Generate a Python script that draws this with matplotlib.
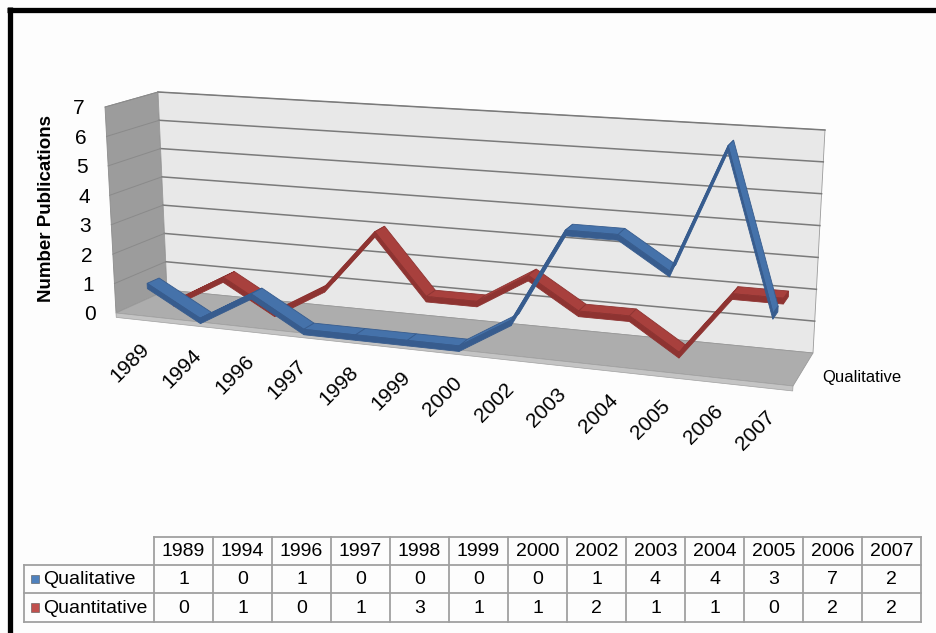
import numpy as np
import matplotlib
matplotlib.use('Agg')
import matplotlib.pyplot as plt
from matplotlib.patches import Polygon

plt.rcParams['font.family'] = ['Liberation Sans', 'DejaVu Sans']

# publication counts per year
years = ['1989', '1994', '1996', '1997', '1998', '1999', '2000',
         '2002', '2003', '2004', '2005', '2006', '2007']
qualitative = [1, 0, 1, 0, 0, 0, 0, 1, 4, 4, 3, 7, 2]
quantitative = [0, 1, 0, 1, 3, 1, 1, 2, 1, 1, 0, 2, 2]
series_names = ['Qualitative', 'Quantitative']
y_ticks = [0, 1, 2, 3, 4, 5, 6, 7]

V_MAX = 7
# screen positions (pixels) of the 3d box corners: (u, v, w) -> (x, y)
# u = along categories, v = value (0..1 of V_MAX), w = depth (0 back, 1 front)
CORNERS = {
    (0, 0, 0): (167, 290), (0, 1, 0): (158, 92),
    (1, 0, 0): (813, 353), (1, 1, 0): (825, 130),
    (0, 0, 1): (116, 313), (0, 1, 1): (105, 107),
    (1, 0, 1): (793, 386), (1, 1, 1): (806, 154),
}
D = 0.12   # half depth of a ribbon
T = 0.18   # ribbon thickness in value units


def project(u, v, w):
    s = v / V_MAX
    x = y = 0.0
    for (a, b, c), (px, py) in CORNERS.items():
        wt = (u if a else 1 - u) * (s if b else 1 - s) * (w if c else 1 - w)
        x += wt * px
        y += wt * py
    return x, y


fig = plt.figure(figsize=(9.36, 6.33), dpi=100)
fig.patch.set_facecolor('#fdfdfd')
ax = fig.add_axes([0, 0, 1, 1])
ax.set_xlim(0, 936)
ax.set_ylim(633, 0)
ax.axis('off')

# walls and floor
side = [project(0, 0, 0), project(0, V_MAX, 0), project(0, V_MAX, 1), project(0, 0, 1)]
back = [project(0, 0, 0), project(0, V_MAX, 0), project(1, V_MAX, 0), project(1, 0, 0)]
floor = [project(0, 0, 0), project(1, 0, 0), project(1, 0, 1), project(0, 0, 1)]
lip = [project(0, 0, 1), project(1, 0, 1), project(1, -0.15, 1), project(0, -0.15, 1)]
ax.add_patch(Polygon(side, closed=True, fc='#9c9c9c', ec='#8c8c8c', lw=0.6, zorder=1))
ax.add_patch(Polygon(back, closed=True, fc='#e8e8e8', ec='#9a9a9a', lw=0.6, zorder=1))
ax.add_patch(Polygon(floor, closed=True, fc='#adadad', ec='#9a9a9a', lw=0.6, zorder=1))
ax.add_patch(Polygon(lip, closed=True, fc='#c4c4c4', ec='#a0a0a0', lw=0.5, zorder=1))

# gridlines on back and side walls
for v in y_ticks[1:]:
    p0, p1 = project(0, v, 0), project(1, v, 0)
    ax.plot([p0[0], p1[0]], [p0[1], p1[1]], color='#7a7a7a', lw=1.1, zorder=2)
    q1 = project(0, v, 1)
    ax.plot([p0[0], q1[0]], [p0[1], q1[1]], color='#8a8a8a', lw=0.7, zorder=2)


def draw_ribbon(values, wc, top_col, side_col, z):
    n = len(values)
    us = (np.arange(n) + 0.5) / n
    for i in range(n - 1):
        u0, u1 = us[i], us[i + 1]
        v0, v1 = values[i], values[i + 1]
        top = [project(u0, v0, wc - D), project(u1, v1, wc - D),
               project(u1, v1, wc + D), project(u0, v0, wc + D)]
        front = [project(u0, v0, wc + D), project(u1, v1, wc + D),
                 project(u1, v1 - T, wc + D), project(u0, v0 - T, wc + D)]
        ax.add_patch(Polygon(top, closed=True, fc=top_col, ec=side_col, lw=0.6, zorder=z))
        ax.add_patch(Polygon(front, closed=True, fc=side_col, ec=side_col, lw=0.6, zorder=z))
    u, v = us[-1], values[-1]
    cap = [project(u, v, wc - D), project(u, v, wc + D),
           project(u, v - T, wc + D), project(u, v - T, wc - D)]
    ax.add_patch(Polygon(cap, closed=True, fc=side_col, ec=side_col, lw=0.6, zorder=z))


draw_ribbon(quantitative, 0.25, '#a8403d', '#8e3331', 3)
draw_ribbon(qualitative, 0.75, '#4572aa', '#375c8e', 4)

# value axis labels
for v in y_ticks:
    x, y = project(0, v, 1)
    ax.text(x - 20, y + 2, str(v), ha='right', va='center', fontsize=15)
ax.text(47, 208, 'Number Publications', rotation=90, ha='center', va='center',
        fontsize=13.5, fontweight='bold')

# category labels
n = len(years)
for i, yr in enumerate(years):
    x, y = project((i + 0.5) / n, 0, 1)
    ax.text(x - 2, y + 24, yr, rotation=45, rotation_mode='anchor',
            ha='right', va='top', fontsize=15)

# series (depth) axis label
x, y = project(1, 0, 0.75)
ax.text(x + 24, y, series_names[0], ha='left', va='center', fontsize=12)

# data table
tl, tx0, cw = 24, 154, 59
rows_y = [537, 565, 593, 622]
line_kw = dict(color='#a0a0a0', lw=1.3, zorder=5)
right = tx0 + cw * n
ax.plot([tx0, right], [rows_y[0]] * 2, **line_kw)
for ry in rows_y[1:]:
    ax.plot([tl, right], [ry] * 2, **line_kw)
ax.plot([tl, tl], [rows_y[1], rows_y[3]], **line_kw)
for j in range(n + 1):
    ax.plot([tx0 + cw * j] * 2, [rows_y[0], rows_y[3]], **line_kw)

for j, yr in enumerate(years):
    ax.text(tx0 + cw * (j + 0.5), (rows_y[0] + rows_y[1]) / 2 + 1, yr,
            ha='center', va='center', fontsize=14)

key_colors = ['#4f81bd', '#c0504d']
for r, (name, vals) in enumerate(zip(series_names, [qualitative, quantitative])):
    cy = (rows_y[r + 1] + rows_y[r + 2]) / 2
    ax.add_patch(Polygon([(31, cy - 4.5), (39, cy - 4.5), (39, cy + 4), (31, cy + 4)],
                         closed=True, fc=key_colors[r], ec='#555555', lw=0.4, zorder=5))
    ax.text(43, cy + 1, name, ha='left', va='center', fontsize=14)
    for j, val in enumerate(vals):
        ax.text(tx0 + cw * (j + 0.5), cy + 1, str(val), ha='center', va='center', fontsize=14)

# black frame on top and left
ax.plot([7, 936], [9.5, 9.5], color='black', lw=3.8, solid_capstyle='butt', zorder=6)
ax.plot([9.5, 9.5], [7, 633], color='black', lw=3.8, solid_capstyle='butt', zorder=6)

fig.savefig('out.png', dpi=100, facecolor=fig.get_facecolor())
